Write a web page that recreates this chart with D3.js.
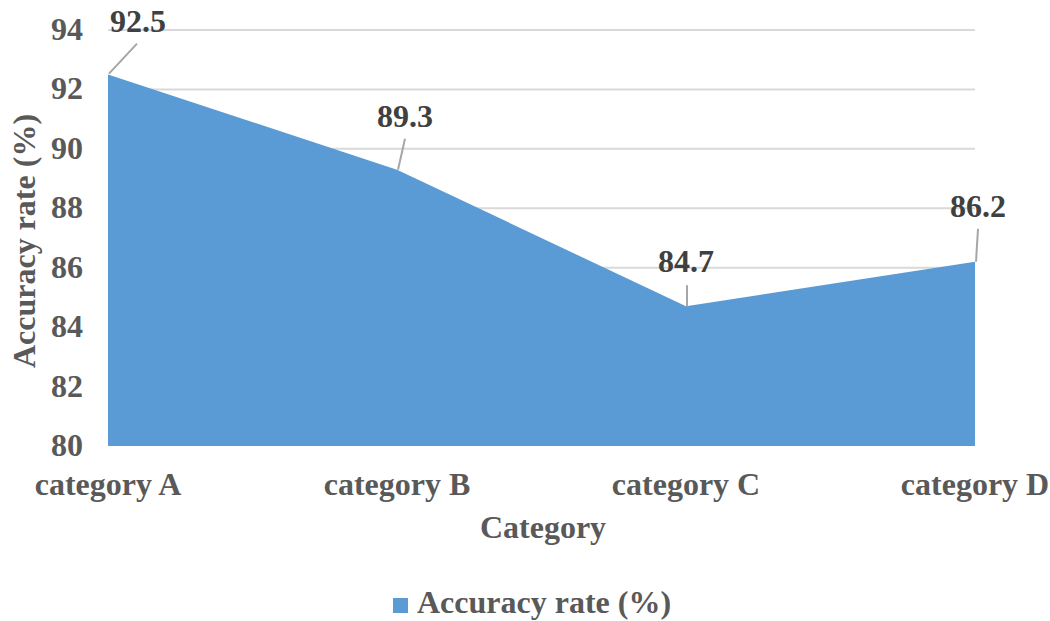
<!DOCTYPE html>
<html>
<head>
<meta charset="utf-8">
<script src="https://cdn.jsdelivr.net/npm/d3@7"></script>
<style>
  html, body { margin: 0; padding: 0; background: #fff; }
  svg { display: block; }
</style>
</head>
<body>
<svg id="chart" width="1050" height="621"></svg>
<script>
// Chart data
const categories = ["category A", "category B", "category C", "category D"];
const accuracy = [92.5, 89.3, 84.7, 86.2];
const yTicks = [80, 82, 84, 86, 88, 90, 92, 94];
const seriesName = "Accuracy rate (%)";
const xTitle = "Category";
const yTitle = "Accuracy rate (%)";

// Leader-line / label offsets for each data label, relative to its point
const labelOffsets = [
  { lx1: 1, ly1: -1, lx2: 29, ly2: -31, tx: 30, ty: -43 },
  { lx1: 1, ly1: 0, lx2: 8, ly2: -31, tx: 8, ty: -43 },
  { lx1: 1, ly1: 0, lx2: 1, ly2: -21, tx: 0, ty: -34 },
  { lx1: 1, ly1: 0, lx2: 3, ly2: -33, tx: 3, ty: -45 }
];

const FONT = "'Liberation Serif', 'Times New Roman', serif";
const FS = 32;

const svg = d3.select("#chart")
  .attr("font-family", FONT)
  .attr("font-weight", "bold");
const plot = { left: 108, right: 975, top: 30, bottom: 446 };

const x = d3.scalePoint().domain(categories).range([plot.left, plot.right]);
const y = d3.scaleLinear().domain([80, 94]).range([plot.bottom, plot.top]);

// Horizontal gridlines
svg.append("g").selectAll("line")
  .data(yTicks.filter(t => t > 80))
  .join("line")
  .attr("x1", plot.left).attr("x2", plot.right)
  .attr("y1", d => y(d)).attr("y2", d => y(d))
  .attr("stroke", "#d9d9d9").attr("stroke-width", 2);

// Area series
const data = categories.map((c, i) => ({ c, v: accuracy[i] }));
const area = d3.area()
  .x(d => x(d.c))
  .y0(y(80))
  .y1(d => y(d.v));
svg.append("path")
  .datum(data)
  .attr("d", area)
  .attr("fill", "#5b9bd5");

// Y tick labels
svg.append("g").selectAll("text")
  .data(yTicks)
  .join("text")
  .attr("x", 83)
  .attr("y", d => y(d) + 10)
  .attr("text-anchor", "end")
  .attr("font-size", FS)
  .attr("fill", "#595959")
  .text(d => d);

// X tick labels
svg.append("g").selectAll("text")
  .data(categories)
  .join("text")
  .attr("x", d => x(d))
  .attr("y", 495)
  .attr("text-anchor", "middle")
  .attr("font-size", FS)
  .attr("fill", "#595959")
  .text(d => d);

// Axis titles
svg.append("text")
  .attr("x", 543).attr("y", 538)
  .attr("text-anchor", "middle")
  .attr("font-size", FS)
  .attr("fill", "#595959")
  .text(xTitle);

svg.append("text")
  .attr("transform", "translate(35,241) rotate(-90)")
  .attr("text-anchor", "middle")
  .attr("font-size", FS)
  .attr("fill", "#595959")
  .text(yTitle);

// Data labels with leader lines
const lab = svg.append("g");
data.forEach((d, i) => {
  const px = x(d.c), py = y(d.v), o = labelOffsets[i];
  lab.append("line")
    .attr("x1", px + o.lx1).attr("y1", py + o.ly1)
    .attr("x2", px + o.lx2).attr("y2", py + o.ly2)
    .attr("stroke", "#a6a6a6").attr("stroke-width", 2);
  lab.append("text")
    .attr("x", px + o.tx).attr("y", py + o.ty)
    .attr("text-anchor", "middle")
    .attr("font-size", FS)
    .attr("fill", "#404040")
    .text(d.v.toFixed(1));
});

// Legend
const leg = svg.append("g");
leg.append("rect")
  .attr("x", 393).attr("y", 598).attr("width", 15).attr("height", 15)
  .attr("fill", "#5b9bd5");
leg.append("text")
  .attr("x", 417).attr("y", 613)
  .attr("font-size", FS)
  .attr("fill", "#595959")
  .text(seriesName);
</script>
</body>
</html>
